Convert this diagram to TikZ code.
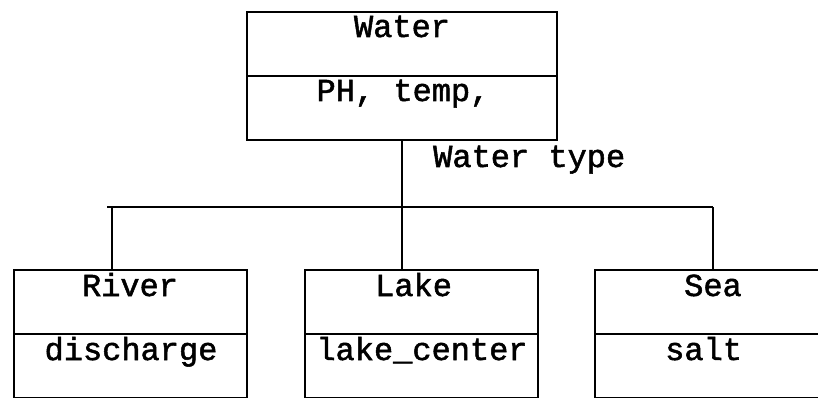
\documentclass[tikz,border=0pt]{standalone}
\usepackage{fontspec}
\newfontfamily\diagfont[FakeBold=1.6]{Liberation Mono}
\begin{document}
\begin{tikzpicture}[x=1pt,y=-1pt,
  part/.style={draw, line width=2pt, minimum width=#1, minimum height=64pt,
    anchor=north west, inner sep=0pt, outer sep=0pt},
  lbl/.style={font=\diagfont\fontsize{32}{38}\selectfont, inner sep=0pt, anchor=base},
  lblw/.style={lbl, anchor=base west},
  conn/.style={line width=2pt}]
\useasboundingbox (0,0) rectangle (818,398);
\clip (0,0) rectangle (818,398);

% class boxes: name compartment over attribute compartment
\node[part=310pt] (water) at (247,12) {};
\node[part=310pt] (waterattr) at (247,76) {};
\node[part=233pt] (river) at (14,270) {};
\node[part=233pt] (riverattr) at (14,334) {};
\node[part=233pt] (lake) at (305,270) {};
\node[part=233pt] (lakeattr) at (305,334) {};
\node[part=236pt] (sea) at (595,270) {};
\node[part=236pt] (seaattr) at (595,334) {};

% compartment texts
\node[lbl] (waterName) at (402,37) {Water};
\node[lbl] (waterAttrs) at (403,101) {PH, temp,};
\node[lbl] (riverName) at (130,296) {River};
\node[lbl] (riverAttrs) at (131,360) {discharge};
\node[lblw] (lakeName) at (375,296) {Lake};
\node[lbl] (lakeAttrs) at (422,360) {lake\_center};
\node[lbl] (seaName) at (713,296) {Sea};
\node[lblw] (seaAttrs) at (665,360) {salt};

% generalisation tree
\coordinate (hub) at (402,207);
\coordinate (busL) at (107,207);
\coordinate (busR) at (713,207);
\coordinate (riverIn) at (112,270);
\coordinate (lakeIn) at (402,270);
\coordinate (seaIn) at (713,270);
\draw[conn] (waterattr.south) -- (hub);
\draw[conn] (busL) -- (busR);
\draw[conn] (riverIn |- hub) -- (riverIn);
\draw[conn] (lakeIn |- hub) -- (lakeIn);
\draw[conn] (seaIn |- hub) -- (seaIn);
\node[lblw] (typeLabel) at (433,167) {Water type};
\end{tikzpicture}
\end{document}
